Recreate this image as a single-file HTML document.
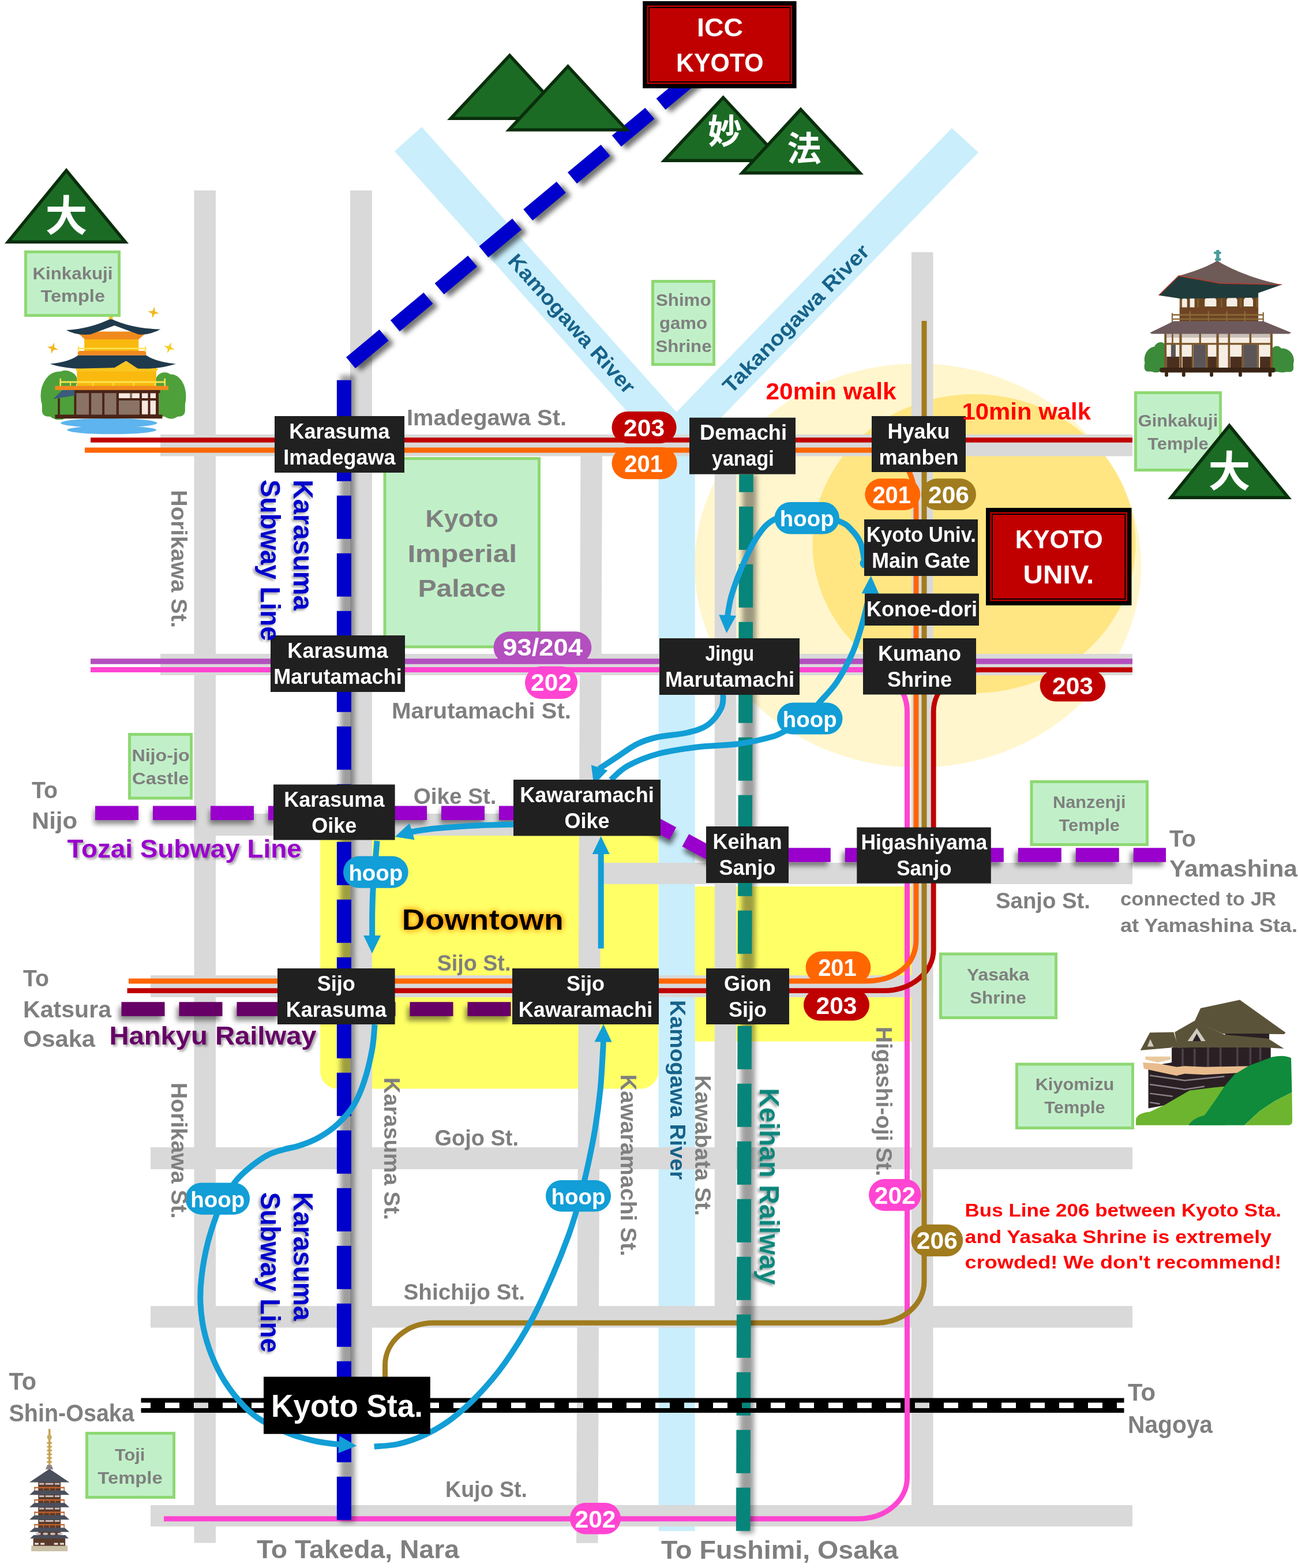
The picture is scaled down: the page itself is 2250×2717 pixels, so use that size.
<!DOCTYPE html>
<html lang="en">
<head>
<meta charset="utf-8">
<title>Kyoto access map</title>
<style>
html,body{margin:0;padding:0;background:#fff;}
body{width:2250px;height:2717px;overflow:hidden;}
svg{display:block;font-family:"Liberation Sans","Noto Sans CJK JP",sans-serif;font-weight:bold;}
.cjk{font-family:"Noto Sans CJK JP","Liberation Sans",sans-serif;font-weight:bold;}
</style>
</head>
<body>
<svg xmlns="http://www.w3.org/2000/svg" width="2250" height="2717" viewBox="0 0 2250 2717">
<defs>
<filter id="blur" x="0" y="0" width="2250" height="2717" filterUnits="userSpaceOnUse"><feGaussianBlur stdDeviation="4.5"/></filter>
<filter id="tsH" x="0" y="0" width="2250" height="2717" filterUnits="userSpaceOnUse"><feGaussianBlur in="SourceAlpha" stdDeviation="2" result="b"/><feOffset in="b" dx="3" dy="3" result="o"/><feComponentTransfer in="o" result="s"><feFuncA type="linear" slope="0.38"/></feComponentTransfer><feMerge><feMergeNode in="s"/><feMergeNode in="SourceGraphic"/></feMerge></filter>
<filter id="tsV" x="0" y="0" width="2250" height="2717" filterUnits="userSpaceOnUse"><feGaussianBlur in="SourceAlpha" stdDeviation="2" result="b"/><feOffset in="b" dx="-3" dy="3" result="o"/><feComponentTransfer in="o" result="s"><feFuncA type="linear" slope="0.38"/></feComponentTransfer><feMerge><feMergeNode in="s"/><feMergeNode in="SourceGraphic"/></feMerge></filter>
<filter id="glow" x="600" y="1500" width="500" height="200" filterUnits="userSpaceOnUse"><feGaussianBlur in="SourceAlpha" stdDeviation="6" result="b"/><feFlood flood-color="#FF9A00" result="c"/><feComposite in="c" in2="b" operator="in" result="g"/><feComponentTransfer in="g" result="g2"><feFuncA type="linear" slope="1.6"/></feComponentTransfer><feMerge><feMergeNode in="g2"/><feMergeNode in="SourceGraphic"/></feMerge></filter>
</defs>
<rect width="2250" height="2717" fill="#fff"/>
<ellipse cx="1591" cy="980" rx="387" ry="350" fill="#FFF6CD"/>
<ellipse cx="1688.5" cy="942" rx="280" ry="259" fill="#FFE682"/>
<rect x="555" y="1418" width="586" height="468.5" rx="30" fill="#FFFF66"/>
<rect x="1204" y="1536" width="376" height="268.5" fill="#FFFF66" />
<polygon points="731,220 684,262 1141.6,774 1141.6,2653 1204.7,2653 1204.7,770.3 1696,264 1650,222 1172.6,714" fill="#CAEEFB"/>
<rect x="336.5" y="330" width="37.5" height="2343.5" fill="#D9D9D9" />
<rect x="607" y="330" width="38" height="2105" fill="#D9D9D9" />
<polygon points="1006.4,789 1043.9,789 1036.5,2673.8 999,2673.8" fill="#D9D9D9"/>
<rect x="1238.8" y="789" width="37.4" height="1511.5" fill="#D9D9D9" />
<rect x="1580" y="437" width="37.5" height="2208" fill="#D9D9D9" />
<rect x="278" y="752.8" width="1685" height="37.7" fill="#D9D9D9" />
<rect x="278" y="1133" width="1685" height="37" fill="#D9D9D9" />
<rect x="336.5" y="1410" width="805.5" height="38" fill="#D9D9D9" />
<rect x="1043" y="1495" width="920" height="37" fill="#D9D9D9" />
<rect x="261" y="1690" width="1356.5" height="38" fill="#D9D9D9" />
<rect x="261" y="1988" width="1702" height="38" fill="#D9D9D9" />
<rect x="261" y="2263" width="1702" height="37.5" fill="#D9D9D9" />
<rect x="261" y="2608" width="1702" height="37" fill="#D9D9D9" />
<rect x="667.0" y="794.5" width="267.5" height="326.3" fill="#C1F0C8" stroke="#8ED873" stroke-width="5"/>
<text x="737.5" y="913.3" font-size="43" fill="#7F7F7F" text-anchor="start" textLength="126.1" lengthAdjust="spacingAndGlyphs" >Kyoto</text>
<text x="706.4" y="973.5" font-size="43" fill="#7F7F7F" text-anchor="start" textLength="189.6" lengthAdjust="spacingAndGlyphs" >Imperial</text>
<text x="724.5" y="1033.6" font-size="43" fill="#7F7F7F" text-anchor="start" textLength="152.1" lengthAdjust="spacingAndGlyphs" >Palace</text>
<path d="M157 1160.6 H1500 C1540.04 1160.6 1572.5 1193.01 1572.5 1233 V2560.7 C1572.5 2599.91 1534.67 2631.7 1488 2631.7 H284" fill="none" stroke="#FF45D2" stroke-width="9" />
<path d="M147 780 H1535 C1564.27 780 1588 825.67 1588 882 V1628.5 C1588 1671.34 1553.2 1699.9 1501 1699.9 H223" fill="none" stroke="#FF6600" stroke-width="9" />
<path d="M157 1146 H1963" fill="none" stroke="#B34FBF" stroke-width="9.5" />
<path d="M157 762.5 H1963" fill="none" stroke="#C00000" stroke-width="8.5" />
<path d="M1963 1160.6 H1700 C1654.82 1160.6 1618.2 1193.01 1618.2 1233 V1645.8 C1618.2 1684.9 1579.61 1716.6 1532 1716.6 H220.5" fill="none" stroke="#C00000" stroke-width="8.8" />
<path d="M1602 556 V2220.8 C1602 2260.23 1564.84 2292.2 1519 2292.2 H752 C705.33 2292.2 667.5 2325.06 667.5 2365.6 V2390" fill="none" stroke="#A07C1E" stroke-width="9" />
<g filter="url(#blur)"><path d="M596.4 2638 V650" transform="translate(6 0)" stroke="#000" stroke-opacity="0.38" stroke-width="25" fill="none"/><path d="M608 628.6 L1203.2 132.29" transform="translate(9 5)" stroke="#000" stroke-opacity="0.55" stroke-width="25" stroke-dasharray="75 25" stroke-dashoffset="0" fill="none"/><path d="M1288.2 2657 L1293.5 822" transform="translate(6 0)" stroke="#000" stroke-opacity="0.38" stroke-width="24.5" fill="none"/><path d="M165 1408.7 H1142" transform="translate(-2 7)" stroke="#000" stroke-opacity="0.45" stroke-width="24.5" stroke-dasharray="75 25" stroke-dashoffset="0" fill="none"/><path d="M1100.3 1408.7 L1235.6 1481.5" transform="translate(2 9)" stroke="#000" stroke-opacity="0.55" stroke-width="24.5" stroke-dasharray="75 25" stroke-dashoffset="0" fill="none"/><path d="M1364.8 1481.5 H2021" transform="translate(-5 7)" stroke="#000" stroke-opacity="0.45" stroke-width="24.5" stroke-dasharray="75 25" stroke-dashoffset="0" fill="none"/><path d="M210.5 1748.6 H888" transform="translate(-4 8)" stroke="#000" stroke-opacity="0.45" stroke-width="24.5" stroke-dasharray="75 25" stroke-dashoffset="0" fill="none"/></g>
<path d="M596.4 2633.7 V655" stroke="#0000CC" stroke-width="25" stroke-dasharray="75 25" stroke-dashoffset="0" fill="none"/>
<path d="M608 628.6 L1203.2 132.29" stroke="#0000CC" stroke-width="25" stroke-dasharray="75 25" stroke-dashoffset="0" fill="none"/>
<path d="M1288.2 2652.8 L1293.5 822" stroke="#07857A" stroke-width="24.5" stroke-dasharray="75 25" stroke-dashoffset="0" fill="none"/>
<path d="M165 1408.7 H1142" stroke="#9900CC" stroke-width="24.5" stroke-dasharray="75 25" stroke-dashoffset="0" fill="none"/>
<path d="M1100.3 1408.7 L1235.6 1481.5" stroke="#9900CC" stroke-width="24.5" stroke-dasharray="75 25" stroke-dashoffset="0" fill="none"/>
<path d="M1364.8 1481.5 H2021" stroke="#9900CC" stroke-width="24.5" stroke-dasharray="75 25" stroke-dashoffset="0" fill="none"/>
<path d="M210.5 1748.6 H888" stroke="#660066" stroke-width="24.5" stroke-dasharray="75 25" stroke-dashoffset="0" fill="none"/>
<path d="M244.5 2426.6 H1948.5 M244.5 2443.9 H1948.5" stroke="#000" stroke-width="8" fill="none"/>
<path d="M244.5 2435.2 H1948.5" stroke="#000" stroke-width="10.5" stroke-dasharray="25 25" stroke-dashoffset="33.5" fill="none"/>
<path d="M1572.5 2415 V2455" fill="none" stroke="#FF45D2" stroke-width="9" />
<circle cx="1499.5" cy="976" r="9" fill="#129ED6"/>
<path d="M1498.7 975.3 C1497.55 969.55 1495.83 950.58 1491.8 940.8 C1487.77 931.02 1480.83 922.93 1474.5 916.6 C1468.17 910.27 1466.22 907.73 1453.8 902.8 C1441.38 897.87 1418.4 887.57 1400 887 C1381.6 886.43 1358.02 892.17 1343.4 899.4 C1328.78 906.63 1322.08 916.03 1312.3 930.4 C1302.52 944.77 1292.17 968.35 1284.7 985.6 C1277.23 1002.85 1271.45 1020.14 1267.5 1033.9 C1263.55 1047.66 1262.1 1062.43 1261.02 1068.14" fill="none" stroke="#129ED6" stroke-width="10" stroke-linecap="butt"/>
<polygon points="1259.5,1097.1 1246.14,1065.36 1276.1,1066.93" fill="#129ED6"/>
<path d="M1253.7 1203.7 C1253.12 1207.62 1254.65 1218.48 1250.2 1227.2 C1245.75 1235.92 1236.78 1248.95 1227 1256 C1217.22 1263.05 1206.2 1265.92 1191.5 1269.5 C1176.8 1273.08 1153.33 1274.2 1138.8 1277.5 C1124.27 1280.8 1115.8 1283.63 1104.3 1289.3 C1092.8 1294.97 1080.77 1304.35 1069.8 1311.5 C1058.83 1318.65 1043.68 1328.74 1038.45 1332.18" fill="none" stroke="#129ED6" stroke-width="10" stroke-linecap="butt"/>
<polygon points="1029.3,1359.7 1024.85,1325.55 1053.32,1335.02" fill="#129ED6"/>
<path d="M1058.7 1351.4 C1063.58 1347.37 1074.48 1334.68 1088 1327.2 C1101.52 1319.72 1119.67 1311.95 1139.8 1306.5 C1159.93 1301.05 1185.8 1297.37 1208.8 1294.5 C1231.8 1291.63 1257.67 1291.88 1277.8 1289.3 C1297.93 1286.72 1316.37 1282.45 1329.6 1279 C1342.83 1275.55 1344.83 1275.1 1357.2 1268.6 C1369.57 1262.1 1393.45 1248.33 1403.8 1240 C1414.15 1231.67 1411.55 1228.22 1419.3 1218.6 C1427.05 1208.98 1440.52 1196.97 1450.3 1182.3 C1460.08 1167.63 1470.52 1147.85 1478 1130.6 C1485.48 1113.35 1490.9 1093.18 1495.2 1078.8 C1499.5 1064.42 1501.55 1052.99 1503.8 1044.3 C1506.05 1035.61 1507.87 1029.62 1508.69 1026.68" fill="none" stroke="#129ED6" stroke-width="10" stroke-linecap="butt"/>
<polygon points="1509.7,997.7 1523.61,1029.2 1493.63,1028.16" fill="#129ED6"/>
<path d="M890 1428.4 C879.33 1428.73 848.17 1429.25 826 1430.4 C803.83 1431.55 775.94 1433.45 757 1435.3 C738.06 1437.15 719.78 1440.48 712.33 1441.52" fill="none" stroke="#129ED6" stroke-width="10" stroke-linecap="butt"/>
<polygon points="684.6,1450 709.86,1426.59 718.63,1455.28" fill="#129ED6"/>
<path d="M653.5 1457 C652.92 1464.17 651.15 1485.92 650 1500 C648.85 1514.08 647.38 1528.17 646.6 1541.5 C645.82 1554.83 645.54 1566.42 645.3 1580 C645.06 1593.58 645.18 1615.83 645.15 1623.0" fill="none" stroke="#129ED6" stroke-width="10" stroke-linecap="butt"/>
<polygon points="645,1652 630.16,1620.92 660.16,1621.08" fill="#129ED6"/>
<path d="M649.6 1775.3 C648.83 1782.58 648.07 1802.52 645 1819 C641.93 1835.48 636.57 1858.1 631.2 1874.2 C625.83 1890.3 620.47 1903.33 612.8 1915.6 C605.13 1927.87 595.17 1938.6 585.2 1947.8 C575.23 1957.0 563.73 1964.67 553 1970.8 C542.27 1976.93 530.77 1981.15 520.8 1984.6 C510.83 1988.05 502.4 1988.82 493.2 1991.5 C484.0 1994.18 474.8 1996.12 465.6 2000.7 C456.4 2005.28 447.2 2011.72 438 2019 C428.8 2026.28 418.4 2035.07 410.4 2044.4 C402.4 2053.73 395.75 2065.03 390 2075 C384.25 2084.97 380.93 2090.9 375.9 2104.2 C370.87 2117.5 364.17 2137.17 359.8 2154.8 C355.43 2172.43 351.77 2193.13 349.7 2210 C347.63 2226.87 346.87 2240.67 347.4 2256 C347.93 2271.33 349.68 2286.67 352.9 2302 C356.12 2317.33 360.57 2332.67 366.7 2348 C372.83 2363.33 380.12 2379.05 389.7 2394 C399.28 2408.95 413.08 2426.2 424.2 2437.7 C435.32 2449.2 442.6 2454.95 456.4 2463 C470.2 2471.05 491.67 2480.25 507 2486 C522.33 2491.75 534.67 2494.62 548.4 2497.5 C562.13 2500.38 582.54 2502.31 589.37 2503.28" fill="none" stroke="#129ED6" stroke-width="10" stroke-linecap="butt"/>
<polygon points="618.3,2505.3 586.33,2518.1 588.42,2488.17" fill="#129ED6"/>
<path d="M648.7 2506.7 C655.75 2505.92 676.28 2505.45 691 2502 C705.72 2498.55 721.67 2493.27 737 2486 C752.33 2478.73 767.67 2469.9 783 2458.4 C798.33 2446.9 813.67 2433.1 829 2417 C844.33 2400.9 859.67 2383.27 875 2361.8 C890.33 2340.33 907.2 2313.5 921 2288.2 C934.8 2262.9 947.07 2234.53 957.8 2210 C968.53 2185.47 977.87 2161.83 985.4 2141 C992.93 2120.17 997.63 2104.17 1003 2085 C1008.37 2065.83 1012.87 2047.33 1017.6 2026 C1022.33 2004.67 1027.57 1980.0 1031.4 1957 C1035.23 1934.0 1038.3 1911.0 1040.6 1888 C1042.9 1865.0 1044.37 1833.08 1045.2 1819 C1046.03 1804.92 1045.53 1806.08 1045.59 1803.5" fill="none" stroke="#129ED6" stroke-width="10" stroke-linecap="butt"/>
<polygon points="1046.1,1774.5 1060.56,1805.76 1030.56,1805.23" fill="#129ED6"/>
<path d="M1041.7 1643.5 V1478" fill="none" stroke="#129ED6" stroke-width="10" stroke-linecap="butt"/>
<polygon points="1041.7,1449 1056.7,1480.0 1026.7,1480.0" fill="#129ED6"/>
<rect x="44.5" y="436.5" width="162" height="110" fill="#C1F0C8" stroke="#8ED873" stroke-width="5"/>
<text x="56.5" y="484" font-size="29" fill="#7F7F7F" text-anchor="start" textLength="139.0" lengthAdjust="spacingAndGlyphs" >Kinkakuji</text>
<text x="70.5" y="522.6" font-size="29" fill="#7F7F7F" text-anchor="start" textLength="111.5" lengthAdjust="spacingAndGlyphs" >Temple</text>
<rect x="1131.5" y="487.5" width="106" height="144" fill="#C1F0C8" stroke="#8ED873" stroke-width="5"/>
<text x="1137" y="530" font-size="29" fill="#7F7F7F" text-anchor="start" textLength="95.5" lengthAdjust="spacingAndGlyphs" >Shimo</text>
<text x="1143" y="570" font-size="29" fill="#7F7F7F" text-anchor="start" textLength="83" lengthAdjust="spacingAndGlyphs" >gamo</text>
<text x="1136.5" y="609.5" font-size="29" fill="#7F7F7F" text-anchor="start" textLength="97.0" lengthAdjust="spacingAndGlyphs" >Shrine</text>
<rect x="1968.5" y="680.5" width="147" height="134" fill="#C1F0C8" stroke="#8ED873" stroke-width="5"/>
<text x="2042.0" y="739" font-size="29" fill="#7F7F7F" text-anchor="middle" textLength="138.36" lengthAdjust="spacingAndGlyphs" >Ginkakuji</text>
<text x="2042.0" y="779" font-size="29" fill="#7F7F7F" text-anchor="middle" textLength="105.33" lengthAdjust="spacingAndGlyphs" >Temple</text>
<rect x="224.5" y="1272.5" width="107" height="110.5" fill="#C1F0C8" stroke="#8ED873" stroke-width="5"/>
<text x="228.4" y="1319" font-size="29" fill="#7F7F7F" text-anchor="start" textLength="100.2" lengthAdjust="spacingAndGlyphs" >Nijo-jo</text>
<text x="229" y="1359" font-size="29" fill="#7F7F7F" text-anchor="start" textLength="98.5" lengthAdjust="spacingAndGlyphs" >Castle</text>
<rect x="1788.0" y="1354.5" width="200.5" height="109" fill="#C1F0C8" stroke="#8ED873" stroke-width="5"/>
<text x="1888.25" y="1400" font-size="29" fill="#7F7F7F" text-anchor="middle" textLength="126.39" lengthAdjust="spacingAndGlyphs" >Nanzenji</text>
<text x="1888.25" y="1440" font-size="29" fill="#7F7F7F" text-anchor="middle" textLength="105.33" lengthAdjust="spacingAndGlyphs" >Temple</text>
<rect x="1630.5" y="1653.0" width="200" height="110.5" fill="#C1F0C8" stroke="#8ED873" stroke-width="5"/>
<text x="1676" y="1698.6" font-size="29" fill="#7F7F7F" text-anchor="start" textLength="108" lengthAdjust="spacingAndGlyphs" >Yasaka</text>
<text x="1681" y="1738.5" font-size="29" fill="#7F7F7F" text-anchor="start" textLength="98" lengthAdjust="spacingAndGlyphs" >Shrine</text>
<rect x="1762.5" y="1844.0" width="201" height="110.5" fill="#C1F0C8" stroke="#8ED873" stroke-width="5"/>
<text x="1863.0" y="1889" font-size="29" fill="#7F7F7F" text-anchor="middle" textLength="136.63" lengthAdjust="spacingAndGlyphs" >Kiyomizu</text>
<text x="1863.0" y="1929" font-size="29" fill="#7F7F7F" text-anchor="middle" textLength="105.33" lengthAdjust="spacingAndGlyphs" >Temple</text>
<rect x="150.5" y="2483.5" width="151" height="111" fill="#C1F0C8" stroke="#8ED873" stroke-width="5"/>
<text x="198.9" y="2530.6" font-size="29" fill="#7F7F7F" text-anchor="start" textLength="52.4" lengthAdjust="spacingAndGlyphs" >Toji</text>
<text x="169.3" y="2570.8" font-size="29" fill="#7F7F7F" text-anchor="start" textLength="112.4" lengthAdjust="spacingAndGlyphs" >Temple</text>
<polygon points="883.5,92 990,208 775,208" fill="#0A2E0C"/>
<polygon points="883.46,100.09 977.48,202.5 787.68,202.5" fill="#1B6B25"/>
<polygon points="984.5,111 1092.5,227.7 876,227.7" fill="#0A2E0C"/>
<polygon points="984.49,119.09 1079.92,222.2 888.62,222.2" fill="#1B6B25"/>
<polygon points="1253.6,165 1361,281 1145,281" fill="#0A2E0C"/>
<polygon points="1253.58,173.07 1348.41,275.5 1157.68,275.5" fill="#1B6B25"/>
<text x="1256.5" y="249" font-size="59" fill="#fff" text-anchor="middle" class="cjk">妙</text>
<polygon points="1388,185.6 1497,302.6 1280,302.6" fill="#0A2E0C"/>
<polygon points="1388.02,193.69 1484.36,297.1 1292.56,297.1" fill="#1B6B25"/>
<text x="1394" y="278.5" font-size="59" fill="#fff" text-anchor="middle" class="cjk">法</text>
<polygon points="115,291 223,422 8,422" fill="#0A2E0C"/>
<polygon points="115.02,299.67 211.34,416.5 19.59,416.5" fill="#1B6B25"/>
<text x="115" y="400" font-size="73" fill="#fff" text-anchor="middle" class="cjk">大</text>
<polygon points="2131,733 2239,865 2024,865" fill="#0A2E0C"/>
<polygon points="2131.02,741.71 2227.39,859.5 2035.54,859.5" fill="#1B6B25"/>
<text x="2131" y="843" font-size="73" fill="#fff" text-anchor="middle" class="cjk">大</text>
<rect x="1114.2" y="2" width="266.4" height="151" fill="#000" />
<rect x="1121.7" y="9.5" width="251.4" height="136.0" fill="#C00000" />
<rect x="1125.2" y="13" width="244.4" height="129" fill="none" stroke="#000" stroke-width="2"/>
<text x="1208" y="62.8" font-size="44" fill="#fff" text-anchor="start" textLength="80" lengthAdjust="spacingAndGlyphs" >ICC</text>
<text x="1172" y="123.5" font-size="44" fill="#fff" text-anchor="start" textLength="151.5" lengthAdjust="spacingAndGlyphs" >KYOTO</text>
<rect x="1709" y="880" width="252.5" height="169" fill="#000" />
<rect x="1716.5" y="887.5" width="237.5" height="154.0" fill="#C00000" />
<rect x="1720" y="891" width="230.5" height="147" fill="none" stroke="#000" stroke-width="2"/>
<text x="1759.7" y="950" font-size="44" fill="#fff" text-anchor="start" textLength="152.1" lengthAdjust="spacingAndGlyphs" >KYOTO</text>
<text x="1773.6" y="1010.6" font-size="44" fill="#fff" text-anchor="start" textLength="122.7" lengthAdjust="spacingAndGlyphs" >UNIV.</text>
<rect x="476" y="721" width="225" height="98" fill="#202020" />
<text x="588.5" y="759.7" font-size="37" fill="#fff" text-anchor="middle" textLength="174.28" lengthAdjust="spacingAndGlyphs" >Karasuma</text>
<text x="588.5" y="804.5" font-size="37" fill="#fff" text-anchor="middle" textLength="194.28" lengthAdjust="spacingAndGlyphs" >Imadegawa</text>
<rect x="469" y="1101" width="233" height="98" fill="#202020" />
<text x="585.5" y="1139.7" font-size="37" fill="#fff" text-anchor="middle" textLength="174.28" lengthAdjust="spacingAndGlyphs" >Karasuma</text>
<text x="585.5" y="1184.5" font-size="37" fill="#fff" text-anchor="middle" textLength="222.3" lengthAdjust="spacingAndGlyphs" >Marutamachi</text>
<rect x="1195" y="723.7" width="184" height="98.0" fill="#202020" />
<text x="1213" y="762.4" font-size="37" fill="#fff" text-anchor="start" textLength="151" lengthAdjust="spacingAndGlyphs" >Demachi</text>
<text x="1234" y="807.2" font-size="37" fill="#fff" text-anchor="start" textLength="107.7" lengthAdjust="spacingAndGlyphs" >yanagi</text>
<rect x="1511" y="721" width="163" height="97" fill="#202020" />
<text x="1592.5" y="759.7" font-size="37" fill="#fff" text-anchor="middle" textLength="108.17" lengthAdjust="spacingAndGlyphs" >Hyaku</text>
<text x="1592.5" y="804.5" font-size="37" fill="#fff" text-anchor="middle" textLength="138.17" lengthAdjust="spacingAndGlyphs" >manben</text>
<rect x="1498" y="900" width="197" height="98" fill="#202020" />
<text x="1502" y="938.7" font-size="37" fill="#fff" text-anchor="start" textLength="190" lengthAdjust="spacingAndGlyphs" >Kyoto Univ.</text>
<text x="1511.2" y="983.5" font-size="37" fill="#fff" text-anchor="start" textLength="170.8" lengthAdjust="spacingAndGlyphs" >Main Gate</text>
<rect x="1499" y="1028.5" width="198" height="55.5" fill="#202020" />
<text x="1598.0" y="1068" font-size="37" fill="#fff" text-anchor="middle" textLength="192.17" lengthAdjust="spacingAndGlyphs" >Konoe-dori</text>
<rect x="1143" y="1106" width="243" height="98" fill="#202020" />
<text x="1222.6" y="1144.7" font-size="37" fill="#fff" text-anchor="start" textLength="84.5" lengthAdjust="spacingAndGlyphs" >Jingu</text>
<text x="1152.9" y="1189.5" font-size="37" fill="#fff" text-anchor="start" textLength="224.3" lengthAdjust="spacingAndGlyphs" >Marutamachi</text>
<rect x="1496" y="1106" width="196" height="97.5" fill="#202020" />
<text x="1594.0" y="1144.7" font-size="37" fill="#fff" text-anchor="middle" textLength="144.15" lengthAdjust="spacingAndGlyphs" >Kumano</text>
<text x="1594.0" y="1189.5" font-size="37" fill="#fff" text-anchor="middle" textLength="112.15" lengthAdjust="spacingAndGlyphs" >Shrine</text>
<rect x="474" y="1359.4" width="210.6" height="96.1" fill="#202020" />
<text x="579.3" y="1398.1" font-size="37" fill="#fff" text-anchor="middle" textLength="174.28" lengthAdjust="spacingAndGlyphs" >Karasuma</text>
<text x="579.3" y="1442.9" font-size="37" fill="#fff" text-anchor="middle" textLength="78.13" lengthAdjust="spacingAndGlyphs" >Oike</text>
<rect x="890" y="1351" width="255" height="97.4" fill="#202020" />
<text x="1017.5" y="1389.7" font-size="37" fill="#fff" text-anchor="middle" textLength="232.37" lengthAdjust="spacingAndGlyphs" >Kawaramachi</text>
<text x="1017.5" y="1434.5" font-size="37" fill="#fff" text-anchor="middle" textLength="78.13" lengthAdjust="spacingAndGlyphs" >Oike</text>
<rect x="481" y="1678" width="203.6" height="97" fill="#202020" />
<text x="582.8" y="1716.7" font-size="37" fill="#fff" text-anchor="middle" textLength="66.08" lengthAdjust="spacingAndGlyphs" >Sijo</text>
<text x="582.8" y="1761.5" font-size="37" fill="#fff" text-anchor="middle" textLength="174.28" lengthAdjust="spacingAndGlyphs" >Karasuma</text>
<rect x="888" y="1678" width="254" height="97" fill="#202020" />
<text x="1015.0" y="1716.7" font-size="37" fill="#fff" text-anchor="middle" textLength="66.08" lengthAdjust="spacingAndGlyphs" >Sijo</text>
<text x="1015.0" y="1761.5" font-size="37" fill="#fff" text-anchor="middle" textLength="232.37" lengthAdjust="spacingAndGlyphs" >Kawaramachi</text>
<rect x="1224" y="1432" width="143" height="98" fill="#202020" />
<text x="1295.5" y="1470.7" font-size="37" fill="#fff" text-anchor="middle" textLength="120.15" lengthAdjust="spacingAndGlyphs" >Keihan</text>
<text x="1295.5" y="1515.5" font-size="37" fill="#fff" text-anchor="middle" textLength="98.12" lengthAdjust="spacingAndGlyphs" >Sanjo</text>
<rect x="1485.3" y="1433.6" width="232.5" height="97.0" fill="#202020" />
<text x="1492.5" y="1472.3" font-size="37" fill="#fff" text-anchor="start" textLength="218.8" lengthAdjust="spacingAndGlyphs" >Higashiyama</text>
<text x="1554.3" y="1517.1" font-size="37" fill="#fff" text-anchor="start" textLength="95.2" lengthAdjust="spacingAndGlyphs" >Sanjo</text>
<rect x="1224" y="1678" width="144" height="97" fill="#202020" />
<text x="1296.0" y="1716.7" font-size="37" fill="#fff" text-anchor="middle" textLength="82.07" lengthAdjust="spacingAndGlyphs" >Gion</text>
<text x="1296.0" y="1761.5" font-size="37" fill="#fff" text-anchor="middle" textLength="66.08" lengthAdjust="spacingAndGlyphs" >Sijo</text>
<rect x="457" y="2385.6" width="288.8" height="99.1" fill="#000" />
<text x="470" y="2455.3" font-size="55" fill="#fff" text-anchor="start" textLength="263" lengthAdjust="spacingAndGlyphs" >Kyoto Sta.</text>
<rect x="1060.5" y="713" width="112.1" height="55.2" rx="27.6" fill="#C00000"/>
<text x="1116.55" y="755.6" font-size="42" fill="#fff" text-anchor="middle" textLength="71" lengthAdjust="spacingAndGlyphs" >203</text>
<rect x="1060.5" y="775" width="113.2" height="55.3" rx="27.65" fill="#FF6600"/>
<text x="1115.6" y="817.6" font-size="42" fill="#fff" text-anchor="middle" textLength="66.7" lengthAdjust="spacingAndGlyphs" >201</text>
<rect x="1499.3" y="829.3" width="95.9" height="54.7" rx="27.35" fill="#FF6600"/>
<text x="1545.75" y="871.9" font-size="42" fill="#fff" text-anchor="middle" textLength="66.7" lengthAdjust="spacingAndGlyphs" >201</text>
<rect x="1597" y="829.3" width="95" height="54.7" rx="27.35" fill="#A07C1E"/>
<text x="1644.5" y="871.9" font-size="42" fill="#fff" text-anchor="middle" textLength="71" lengthAdjust="spacingAndGlyphs" >206</text>
<rect x="1342.5" y="870" width="112.5" height="55.6" rx="27.8" fill="#129ED6"/>
<text x="1398.75" y="912.3" font-size="38" fill="#fff" text-anchor="middle" textLength="93.86" lengthAdjust="spacingAndGlyphs" >hoop</text>
<rect x="1347" y="1217.5" width="113.5" height="55.0" rx="27.5" fill="#129ED6"/>
<text x="1403.75" y="1259.8" font-size="38" fill="#fff" text-anchor="middle" textLength="93.86" lengthAdjust="spacingAndGlyphs" >hoop</text>
<rect x="1802.7" y="1160.4" width="113.6" height="55.2" rx="27.6" fill="#C00000"/>
<text x="1859.5" y="1203.0" font-size="42" fill="#fff" text-anchor="middle" textLength="71" lengthAdjust="spacingAndGlyphs" >203</text>
<rect x="855.5" y="1094.3" width="169.8" height="55.2" rx="27.6" fill="#B34FBF"/>
<text x="871.2" y="1136.4" font-size="42" fill="#fff" text-anchor="start" textLength="138.9" lengthAdjust="spacingAndGlyphs" >93/204</text>
<rect x="910" y="1154.8" width="91" height="56.3" rx="28.15" fill="#FF45D2"/>
<text x="955.5" y="1197.3" font-size="42" fill="#fff" text-anchor="middle" textLength="71" lengthAdjust="spacingAndGlyphs" >202</text>
<rect x="595" y="1483.6" width="112.7" height="55.2" rx="27.6" fill="#129ED6"/>
<text x="651.35" y="1525.9" font-size="38" fill="#fff" text-anchor="middle" textLength="93.86" lengthAdjust="spacingAndGlyphs" >hoop</text>
<rect x="1396.6" y="1648.6" width="112.8" height="55.2" rx="27.6" fill="#FF6600"/>
<text x="1451.5" y="1691.2" font-size="42" fill="#fff" text-anchor="middle" textLength="66.7" lengthAdjust="spacingAndGlyphs" >201</text>
<rect x="1393" y="1714" width="114" height="54.4" rx="27.2" fill="#C00000"/>
<text x="1450.0" y="1756.6" font-size="42" fill="#fff" text-anchor="middle" textLength="71" lengthAdjust="spacingAndGlyphs" >203</text>
<rect x="321.4" y="2049.5" width="111.6" height="55.2" rx="27.6" fill="#129ED6"/>
<text x="377.2" y="2091.8" font-size="38" fill="#fff" text-anchor="middle" textLength="93.86" lengthAdjust="spacingAndGlyphs" >hoop</text>
<rect x="946" y="2045" width="113" height="54.5" rx="27.25" fill="#129ED6"/>
<text x="1002.5" y="2087.3" font-size="38" fill="#fff" text-anchor="middle" textLength="93.86" lengthAdjust="spacingAndGlyphs" >hoop</text>
<rect x="1506" y="2043" width="90.7" height="55.3" rx="27.65" fill="#FF45D2"/>
<text x="1551.35" y="2085.6" font-size="42" fill="#fff" text-anchor="middle" textLength="71" lengthAdjust="spacingAndGlyphs" >202</text>
<rect x="1579.5" y="2121.8" width="89.7" height="55.2" rx="27.6" fill="#A07C1E"/>
<text x="1624.35" y="2164.4" font-size="42" fill="#fff" text-anchor="middle" textLength="71" lengthAdjust="spacingAndGlyphs" >206</text>
<rect x="988" y="2604" width="88" height="54.5" rx="27.25" fill="#FF45D2"/>
<text x="1032.0" y="2646.6" font-size="42" fill="#fff" text-anchor="middle" textLength="71" lengthAdjust="spacingAndGlyphs" >202</text>
<text x="705" y="737" font-size="38" fill="#7F7F7F" text-anchor="start" textLength="277" lengthAdjust="spacingAndGlyphs" >Imadegawa St.</text>
<text x="679" y="1245" font-size="38" fill="#7F7F7F" text-anchor="start" textLength="311" lengthAdjust="spacingAndGlyphs" >Marutamachi St.</text>
<text x="716.7" y="1393" font-size="38" fill="#7F7F7F" text-anchor="start" textLength="143.8" lengthAdjust="spacingAndGlyphs" >Oike St.</text>
<text x="757.7" y="1681.5" font-size="38" fill="#7F7F7F" text-anchor="start" textLength="127.7" lengthAdjust="spacingAndGlyphs" >Sijo St.</text>
<text x="753.6" y="1985" font-size="38" fill="#7F7F7F" text-anchor="start" textLength="145.4" lengthAdjust="spacingAndGlyphs" >Gojo St.</text>
<text x="699.6" y="2252" font-size="38" fill="#7F7F7F" text-anchor="start" textLength="210.4" lengthAdjust="spacingAndGlyphs" >Shichijo St.</text>
<text x="772" y="2593.5" font-size="38" fill="#7F7F7F" text-anchor="start" textLength="142" lengthAdjust="spacingAndGlyphs" >Kujo St.</text>
<text x="1726" y="1574" font-size="38" fill="#7F7F7F" text-anchor="start" textLength="164" lengthAdjust="spacingAndGlyphs" >Sanjo St.</text>
<text x="445" y="2700" font-size="44" fill="#7F7F7F" text-anchor="start" textLength="351" lengthAdjust="spacingAndGlyphs" >To Takeda, Nara</text>
<text x="1146" y="2701" font-size="44" fill="#7F7F7F" text-anchor="start" textLength="411" lengthAdjust="spacingAndGlyphs" >To Fushimi, Osaka</text>
<text x="1955" y="2427" font-size="42" fill="#7F7F7F" text-anchor="start" textLength="48" lengthAdjust="spacingAndGlyphs" >To</text>
<text x="1955" y="2483" font-size="42" fill="#7F7F7F" text-anchor="start" textLength="147" lengthAdjust="spacingAndGlyphs" >Nagoya</text>
<text x="15.5" y="2408" font-size="42" fill="#7F7F7F" text-anchor="start" textLength="47.5" lengthAdjust="spacingAndGlyphs" >To</text>
<text x="15.5" y="2463" font-size="42" fill="#7F7F7F" text-anchor="start" textLength="217.3" lengthAdjust="spacingAndGlyphs" >Shin-Osaka</text>
<text x="55" y="1383" font-size="40" fill="#7F7F7F" text-anchor="start" textLength="45" lengthAdjust="spacingAndGlyphs" >To</text>
<text x="55" y="1436" font-size="40" fill="#7F7F7F" text-anchor="start" textLength="79" lengthAdjust="spacingAndGlyphs" >Nijo</text>
<text x="40" y="1709" font-size="40" fill="#7F7F7F" text-anchor="start" textLength="45" lengthAdjust="spacingAndGlyphs" >To</text>
<text x="40" y="1762.5" font-size="40" fill="#7F7F7F" text-anchor="start" textLength="153" lengthAdjust="spacingAndGlyphs" >Katsura</text>
<text x="40" y="1814" font-size="40" fill="#7F7F7F" text-anchor="start" textLength="125" lengthAdjust="spacingAndGlyphs" >Osaka</text>
<text x="2027" y="1467" font-size="40" fill="#7F7F7F" text-anchor="start" textLength="46" lengthAdjust="spacingAndGlyphs" >To</text>
<text x="2027" y="1518.7" font-size="40" fill="#7F7F7F" text-anchor="start" textLength="222" lengthAdjust="spacingAndGlyphs" >Yamashina</text>
<text x="1942" y="1568.5" font-size="33" fill="#7F7F7F" text-anchor="start" textLength="270" lengthAdjust="spacingAndGlyphs" >connected to JR</text>
<text x="1942" y="1615" font-size="33" fill="#7F7F7F" text-anchor="start" textLength="307" lengthAdjust="spacingAndGlyphs" >at Yamashina Sta.</text>
<text x="116.4" y="1486" font-size="44" fill="#9900CC" text-anchor="start" textLength="406.3" lengthAdjust="spacingAndGlyphs" filter="url(#tsH)">Tozai Subway Line</text>
<text x="189.5" y="1810" font-size="44" fill="#660066" text-anchor="start" textLength="359.1" lengthAdjust="spacingAndGlyphs" filter="url(#tsH)">Hankyu Railway</text>
<g filter="url(#glow)">
<text x="696.6" y="1610.5" font-size="50" fill="#000" text-anchor="start" textLength="280.2" lengthAdjust="spacingAndGlyphs" >Downtown</text>
</g>
<text x="1327.5" y="691.5" font-size="40" fill="#FF0000" text-anchor="start" textLength="226.2" lengthAdjust="spacingAndGlyphs" >20min walk</text>
<text x="1667.5" y="726.5" font-size="40" fill="#FF0000" text-anchor="start" textLength="223.5" lengthAdjust="spacingAndGlyphs" >10min walk</text>
<text x="1672.6" y="2107.7" font-size="32" fill="#FF0000" text-anchor="start" textLength="548.4" lengthAdjust="spacingAndGlyphs" >Bus Line 206 between Kyoto Sta.</text>
<text x="1672.6" y="2153.6" font-size="32" fill="#FF0000" text-anchor="start" textLength="531.4" lengthAdjust="spacingAndGlyphs" >and Yasaka Shrine is extremely</text>
<text x="1672.6" y="2198.4" font-size="32" fill="#FF0000" text-anchor="start" textLength="548.4" lengthAdjust="spacingAndGlyphs" >crowded! We don't recommend!</text>
<text transform="translate(297 849) rotate(90)" font-size="38" fill="#7F7F7F" textLength="239" lengthAdjust="spacingAndGlyphs" >Horikawa St.</text>
<text transform="translate(297 1875.7) rotate(90)" font-size="38" fill="#7F7F7F" textLength="236" lengthAdjust="spacingAndGlyphs" >Horikawa St.</text>
<text transform="translate(666 1867) rotate(90)" font-size="38" fill="#7F7F7F" textLength="247" lengthAdjust="spacingAndGlyphs" >Karasuma St.</text>
<text transform="translate(1075.5 1861.5) rotate(90)" font-size="39" fill="#7F7F7F" textLength="315.5" lengthAdjust="spacingAndGlyphs" >Kawaramachi St.</text>
<text transform="translate(1205 1863) rotate(90)" font-size="38" fill="#7F7F7F" textLength="244" lengthAdjust="spacingAndGlyphs" >Kawabata St.</text>
<text transform="translate(1518.5 1779) rotate(90)" font-size="38" fill="#7F7F7F" textLength="259" lengthAdjust="spacingAndGlyphs" >Higashi-oji St.</text>
<text transform="translate(1162 1733) rotate(90)" font-size="36" fill="#17628A" textLength="311" lengthAdjust="spacingAndGlyphs" >Kamogawa River</text>
<g filter="url(#tsV)">
<text transform="translate(509 831) rotate(90)" font-size="49" fill="#0000CC" textLength="226.6" lengthAdjust="spacingAndGlyphs" >Karasuma</text>
<text transform="translate(452 831) rotate(90)" font-size="49" fill="#0000CC" textLength="279.6" lengthAdjust="spacingAndGlyphs" >Subway Line</text>
<text transform="translate(509 2065.7) rotate(90)" font-size="49" fill="#0000CC" textLength="222.6" lengthAdjust="spacingAndGlyphs" >Karasuma</text>
<text transform="translate(452 2065.7) rotate(90)" font-size="49" fill="#0000CC" textLength="278" lengthAdjust="spacingAndGlyphs" >Subway Line</text>
<text transform="translate(1317 1885.5) rotate(90)" font-size="49" fill="#07857A" textLength="340.5" lengthAdjust="spacingAndGlyphs" >Keihan Railway</text>
</g>
<text transform="translate(878.5 453.5) rotate(48.2)" font-size="36" fill="#17628A" textLength="310" lengthAdjust="spacingAndGlyphs" >Kamogawa River</text>
<text transform="translate(1267.4 683.4) rotate(-45.4)" font-size="36" fill="#17628A" textLength="344.5" lengthAdjust="spacingAndGlyphs" >Takanogawa River</text>
<g transform="translate(60 510) scale(0.16101)">
<g fill="#4EA03A"><ellipse cx="265" cy="1090" rx="200" ry="260"/><ellipse cx="330" cy="930" rx="130" ry="110"/><ellipse cx="1470" cy="1100" rx="160" ry="240"/><ellipse cx="1400" cy="940" rx="100" ry="100"/><rect x="80" y="1100" width="1540" height="215" rx="60"/></g>
<g fill="#5DB4EE"><ellipse cx="800" cy="1385" rx="520" ry="50"/><ellipse cx="830" cy="1460" rx="480" ry="45"/><rect x="500" y="1380" width="600" height="90"/></g>
<rect x="430" y="1030" width="910" height="270" fill="#8A7365"/>
<g fill="#F8E8E0"><rect x="905" y="1065" width="120" height="55"/><rect x="1050" y="1065" width="80" height="55"/><rect x="1155" y="1065" width="65" height="55"/><rect x="1245" y="1065" width="60" height="55"/><rect x="1155" y="1145" width="65" height="145"/><rect x="1245" y="1145" width="60" height="145"/></g>
<g fill="#4A2416"><rect x="220" y="1295" width="1155" height="42"/><rect x="340" y="1025" width="1010" height="38"/><rect x="425" y="1030" width="24" height="270"/><rect x="585" y="1030" width="24" height="270"/><rect x="728" y="1030" width="24" height="270"/><rect x="880" y="1030" width="26" height="270"/><rect x="1130" y="1030" width="24" height="270"/><rect x="1222" y="1030" width="22" height="270"/><rect x="1305" y="1030" width="30" height="270"/><rect x="905" y="1118" width="420" height="24"/><rect x="250" y="1120" width="22" height="180"/></g>
<polygon points="200,1125 300,1030 430,1030 430,1090" fill="#3B5C7A"/>
<rect x="455" y="760" width="855" height="230" fill="#F9B90F"/>
<rect x="220" y="985" width="1220" height="45" fill="#F08A1E"/>
<g fill="#FBE352"><rect x="270" y="935" width="1140" height="18"/><rect x="270" y="905" width="16" height="82"/><rect x="1394" y="905" width="16" height="82"/><rect x="380" y="940" width="12" height="45"/><rect x="620" y="940" width="12" height="45"/><rect x="840" y="940" width="12" height="45"/><rect x="1060" y="940" width="12" height="45"/><rect x="1290" y="940" width="12" height="45"/></g>
<path d="M165 748 Q380 725 470 655 L1200 655 Q1300 725 1520 748 Q1330 810 1110 800 L985 718 L860 790 Q420 830 165 748Z" fill="#1F3A4C"/>
<path d="M440 800 L860 790 L985 718 L1110 800 L1330 800 L1310 830 L455 830Z" fill="#FAC51E"/>
<rect x="535" y="450" width="585" height="170" fill="#F9B90F"/>
<rect x="465" y="608" width="735" height="48" fill="#F08A1E"/>
<g fill="#FBE352"><rect x="465" y="575" width="735" height="16"/><rect x="465" y="560" width="14" height="60"/><rect x="1186" y="560" width="14" height="60"/></g>
<polygon points="450,400 1220,400 1120,485 540,485" fill="#F08A1E"/>
<path d="M340 385 Q600 370 820 262 Q1050 370 1355 375 Q1240 440 1120 432 L860 335 L600 432 Q450 445 340 385Z" fill="#1F3A4C"/>
<rect x="800" y="242" width="42" height="26" rx="8" fill="#F7C11A"/>
<polygon points="1341.06,205.77 1291.38,211.25 1269.23,256.06 1263.75,206.38 1218.94,184.23 1268.62,178.75 1290.77,133.94 1296.25,183.62" fill="#F2B71C"/>
<polygon points="254.89,596.05 204.92,597.18 178.95,639.89 177.82,589.92 135.11,563.95 185.08,562.82 211.05,520.11 212.18,570.08" fill="#F2B71C"/>
<polygon points="1508.26,596.21 1458.38,592.98 1428.79,633.26 1432.02,583.38 1391.74,553.79 1441.62,557.02 1471.21,516.74 1467.98,566.62" fill="#F5CD1E"/>
</g>
<g transform="translate(1970 420) scale(0.16101)">
<g fill="#3C8B3A"><ellipse cx="210" cy="1260" rx="125" ry="140"/><ellipse cx="260" cy="1150" rx="70" ry="75"/><ellipse cx="1570" cy="1270" rx="125" ry="130"/><ellipse cx="1510" cy="1180" rx="60" ry="65"/><rect x="85" y="1280" width="250" height="110" rx="40"/><rect x="1440" y="1290" width="250" height="105" rx="40"/></g>
<rect x="305" y="975" width="1160" height="385" fill="#F6EEE4"/>
<rect x="305" y="975" width="1160" height="50" fill="#C9BFB8"/>
<g fill="#4B2F1E"><rect x="325" y="1230" width="135" height="125"/><rect x="495" y="1230" width="110" height="125"/><rect x="765" y="1230" width="100" height="125"/><rect x="1010" y="1230" width="125" height="125"/><rect x="1330" y="1230" width="115" height="125"/></g>
<g fill="#5B5557"><rect x="615" y="1100" width="135" height="255"/><rect x="1150" y="1100" width="150" height="255"/><rect x="372" y="1100" width="50" height="130"/></g>
<g fill="#7A5528"><rect x="300" y="975" width="24" height="385"/><rect x="462" y="975" width="26" height="385"/><rect x="675" y="975" width="20" height="120"/><rect x="860" y="975" width="26" height="385"/><rect x="985" y="975" width="22" height="385"/><rect x="1215" y="975" width="22" height="120"/><rect x="1440" y="975" width="26" height="385"/><rect x="305" y="1082" width="1160" height="20"/><rect x="380" y="975" width="16" height="110"/><rect x="595" y="1100" width="18" height="255"/><rect x="750" y="1100" width="18" height="255"/><rect x="1132" y="1100" width="18" height="255"/><rect x="1300" y="1100" width="18" height="255"/></g>
<rect x="250" y="1348" width="1245" height="52" rx="22" fill="#3A2415"/>
<g fill="#3A2415"><rect x="305" y="1395" width="36" height="50" rx="12"/><rect x="490" y="1395" width="36" height="50" rx="12"/><rect x="790" y="1395" width="36" height="50" rx="12"/><rect x="1100" y="1395" width="36" height="50" rx="12"/><rect x="1420" y="1395" width="36" height="50" rx="12"/></g>
<rect x="465" y="490" width="845" height="360" fill="#6A4722"/>
<g fill="#F6EEE4"><path d="M490 700 V620 Q515 550 545 620 V700Z"/><path d="M575 700 V610 Q600 545 625 610 V700Z"/><path d="M735 690 V620 Q795 500 860 620 V690Z"/><path d="M970 690 V620 Q1030 500 1085 620 V690Z"/><path d="M1155 690 V620 Q1205 520 1255 620 V690Z"/></g>
<g fill="#7E5A2C"><rect x="650" y="490" width="24" height="360"/><rect x="905" y="490" width="20" height="360"/><rect x="1110" y="530" width="20" height="320"/><rect x="1290" y="530" width="22" height="320"/><rect x="465" y="580" width="20" height="270"/></g>
<rect x="465" y="700" width="845" height="150" fill="#6E4424"/>
<g fill="#8A6A38"><rect x="380" y="772" width="990" height="16"/><rect x="380" y="818" width="990" height="14"/><rect x="378" y="760" width="14" height="110"/><rect x="1358" y="752" width="14" height="110"/><rect x="570" y="740" width="14" height="110"/><rect x="768" y="740" width="14" height="110"/><rect x="965" y="740" width="14" height="110"/><rect x="1160" y="740" width="14" height="110"/></g>
<polygon points="145,972 400,848 1365,848 1668,972 1640,985 165,985" fill="#6E5A5C"/>
<polygon points="455,360 900,440 1565,455 1310,545 1310,595 470,605 240,570" fill="#203B3B"/>
<path d="M870 195 C1000 285 1300 405 1568 455 L900 440 L455 360 C600 320 780 255 870 195Z" fill="#6E5A57"/>
<path d="M240 570 L455 360 L900 440 L1565 455" fill="none" stroke="#B03A2E" stroke-width="10"/>
<g fill="#4A9C9A"><rect x="858" y="80" width="34" height="120" rx="10"/><rect x="832" y="100" width="80" height="26" rx="12"/><rect x="845" y="170" width="65" height="28" rx="10"/></g>
</g>
<g transform="translate(1950 1710) scale(0.17251)">
<polygon points="470,610 1465,600 1465,820 1250,810 1000,1010 650,1060 400,1190 235,1220 235,800 470,760" fill="#2A2024"/>
<g stroke="#8A8088" stroke-width="14" fill="none"><path d="M250 890 L600 940 L1000 900"/><path d="M250 980 L600 1030 L800 1000"/><path d="M250 1070 L480 1100"/><path d="M250 1160 L350 1175"/></g>
<g stroke="#4A4046" stroke-width="22" fill="none"><path d="M580 620 V800 M700 620 V800 M835 600 V800 M960 600 V800 M1130 600 V800 M1260 600 V780 M1360 600 V740"/></g>
<polygon points="180,760 330,770 520,805 600,795 800,805 1270,795 1180,862 800,882 600,872 520,892 330,852 190,822" fill="#E9BC8E"/>
<polygon points="205,700 460,700 460,730 330,760 205,730" fill="#E9C9A0"/>
<polygon points="760,215 1155,130 1182,150 1615,460 1600,475 980,470 700,345" fill="#5B5339"/>
<polygon points="1000,470 1450,470 1450,530 1050,515" fill="#2A2024"/>
<polygon points="500,455 700,340 1000,480 1440,520 1598,620 1400,608 470,608 520,560" fill="#5B5339"/>
<polygon points="250,460 490,455 525,570 460,612 155,637" fill="#5B5339"/>
<polygon points="722,415 630,545 810,545" fill="#CFCBC0"/><polygon points="722,470 680,545 765,545" fill="#2A2024"/>
<polygon points="255,525 225,600 290,600" fill="#CFCBC0"/>
<path d="M110 1390 V1330 Q130 1265 250 1255 L400 1185 L650 1040 L900 1010 L1010 1000 L1010 1390Z" fill="#6DB52E"/>
<path d="M640 1390 Q680 1320 800 1290 L900 1150 L1000 1000 L1100 880 L1250 790 L1480 705 Q1600 680 1670 715 L1678 1060 L1500 1150 L1350 1250 L1200 1390Z" fill="#0F8B3B"/>
<path d="M1200 1390 L1350 1250 L1500 1150 L1678 1060 L1682 1350 Q1680 1390 1640 1390Z" fill="#6DB52E"/>
</g>
<g transform="translate(20 2460) scale(0.114286)">
<rect x="300" y="1910" width="550" height="85" fill="#CBC0A8"/>
<rect x="330" y="1795" width="485" height="118" fill="#5A3A2A"/>
<g fill="#E8E2DC"><rect x="350" y="1868" width="60" height="28"/><rect x="440" y="1868" width="60" height="28"/><rect x="645" y="1868" width="60" height="28"/><rect x="735" y="1868" width="60" height="28"/></g>
<rect x="405" y="940" width="340" height="860" fill="#5A3A2A"/>
<g fill="#C8BEC0"><rect x="420" y="960.0" width="75" height="26"/><rect x="515" y="960.0" width="120" height="26"/><rect x="655" y="960.0" width="75" height="26"/></g>
<rect x="345" y="1020.0" width="460" height="20" fill="#C0622D"/>
<g fill="#C0622D"><rect x="345" y="1020.0" width="14" height="55"/><rect x="791" y="1020.0" width="14" height="55"/><rect x="480" y="1020.0" width="12" height="55"/><rect x="568" y="1020.0" width="14" height="55"/><rect x="660" y="1020.0" width="12" height="55"/></g>
<polygon points="345,1075.0 805,1075.0 878,1140.0 272,1140.0" fill="#4A4F5B"/>
<g fill="#C8BEC0"><rect x="420" y="1147.5" width="75" height="26"/><rect x="515" y="1147.5" width="120" height="26"/><rect x="655" y="1147.5" width="75" height="26"/></g>
<rect x="345" y="1207.5" width="460" height="20" fill="#C0622D"/>
<g fill="#C0622D"><rect x="345" y="1207.5" width="14" height="55"/><rect x="791" y="1207.5" width="14" height="55"/><rect x="480" y="1207.5" width="12" height="55"/><rect x="568" y="1207.5" width="14" height="55"/><rect x="660" y="1207.5" width="12" height="55"/></g>
<polygon points="345,1262.5 805,1262.5 878,1327.5 272,1327.5" fill="#4A4F5B"/>
<g fill="#C8BEC0"><rect x="420" y="1335.0" width="75" height="26"/><rect x="515" y="1335.0" width="120" height="26"/><rect x="655" y="1335.0" width="75" height="26"/></g>
<rect x="345" y="1395.0" width="460" height="20" fill="#C0622D"/>
<g fill="#C0622D"><rect x="345" y="1395.0" width="14" height="55"/><rect x="791" y="1395.0" width="14" height="55"/><rect x="480" y="1395.0" width="12" height="55"/><rect x="568" y="1395.0" width="14" height="55"/><rect x="660" y="1395.0" width="12" height="55"/></g>
<polygon points="345,1450.0 805,1450.0 878,1515.0 272,1515.0" fill="#4A4F5B"/>
<g fill="#C8BEC0"><rect x="420" y="1522.5" width="75" height="26"/><rect x="515" y="1522.5" width="120" height="26"/><rect x="655" y="1522.5" width="75" height="26"/></g>
<rect x="345" y="1582.5" width="460" height="20" fill="#C0622D"/>
<g fill="#C0622D"><rect x="345" y="1582.5" width="14" height="55"/><rect x="791" y="1582.5" width="14" height="55"/><rect x="480" y="1582.5" width="12" height="55"/><rect x="568" y="1582.5" width="14" height="55"/><rect x="660" y="1582.5" width="12" height="55"/></g>
<polygon points="345,1637.5 805,1637.5 878,1702.5 272,1702.5" fill="#4A4F5B"/>
<g fill="#C8BEC0"><ellipse cx="405" cy="1730" rx="40" ry="18"/><ellipse cx="515" cy="1730" rx="40" ry="18"/><ellipse cx="625" cy="1730" rx="40" ry="18"/><ellipse cx="735" cy="1730" rx="40" ry="18"/></g>
<polygon points="335,1750 815,1750 868,1800 282,1800" fill="#4A4F5B"/>
<polygon points="575,745 878,950 272,950" fill="#4A4F5B"/>
<polygon points="545,685 605,685 632,752 515,752" fill="#8C8487"/>
<rect x="560" y="140" width="30" height="550" fill="#C4A24E"/>
<ellipse cx="575" cy="265" rx="36" ry="42" fill="#C9AC62"/>
<ellipse cx="575" cy="352" rx="42" ry="15" fill="#C4A24E"/>
<ellipse cx="575" cy="410" rx="42" ry="15" fill="#C4A24E"/>
<ellipse cx="575" cy="466" rx="42" ry="15" fill="#C4A24E"/>
<ellipse cx="575" cy="524" rx="42" ry="15" fill="#C4A24E"/>
<ellipse cx="575" cy="582" rx="42" ry="15" fill="#C4A24E"/>
<ellipse cx="575" cy="640" rx="42" ry="15" fill="#C4A24E"/>
</g>
</svg>
</body>
</html>
